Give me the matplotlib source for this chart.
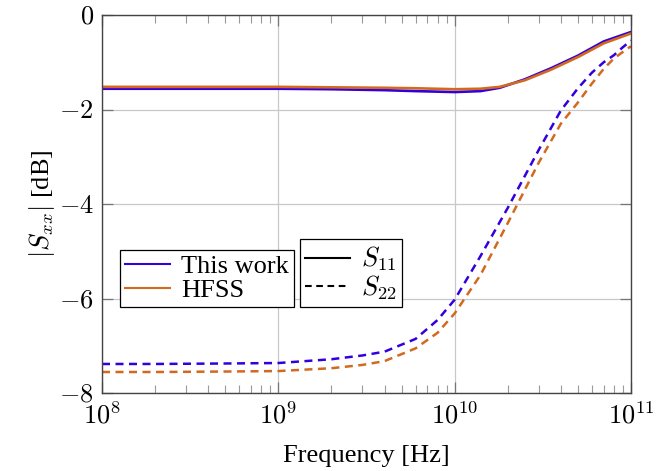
import matplotlib
matplotlib.use("Agg")
import matplotlib.pyplot as plt
from matplotlib.lines import Line2D
from matplotlib.ticker import LogLocator, FixedLocator

plt.rcParams['font.family'] = ['Liberation Serif', 'DejaVu Serif']
plt.rcParams['mathtext.fontset'] = 'cm'

# frequency points [Hz]
freq_s11 = [1e8, 2e8, 5e8, 1e9, 2e9, 4e9, 6e9, 1e10, 1.4e10, 1.8e10, 2.5e10,
            3.5e10, 5e10, 7e10, 1e11]
s11_this = [-1.56, -1.56, -1.56, -1.56, -1.57, -1.59, -1.61, -1.63, -1.61,
            -1.54, -1.36, -1.13, -0.86, -0.56, -0.36]
s11_hfss = [-1.52, -1.52, -1.52, -1.52, -1.53, -1.54, -1.55, -1.57, -1.56,
            -1.52, -1.38, -1.16, -0.89, -0.60, -0.39]

freq_s22 = [1e8, 2e8, 5e8, 1e9, 2e9, 3e9, 4e9, 6e9, 8e9, 1e10, 1.4e10, 2e10,
            3e10, 4e10, 5e10, 6e10, 7e10, 8e10, 9e10, 1e11]
s22_this = [-7.38, -7.38, -7.37, -7.36, -7.28, -7.20, -7.12, -6.85, -6.45,
            -6.02, -5.10, -4.08, -2.85, -2.02, -1.55, -1.22, -1.00, -0.85,
            -0.68, -0.54]
s22_hfss = [-7.55, -7.55, -7.54, -7.53, -7.47, -7.40, -7.32, -7.05, -6.72,
            -6.31, -5.50, -4.40, -3.12, -2.30, -1.85, -1.45, -1.14, -0.92,
            -0.78, -0.66]

c_this = '#3300dd'
c_hfss = '#d2691e'
dash = (0, (3.2, 2.2))
fs = 19

fig = plt.figure(figsize=(6.65, 4.71), dpi=100)
ax = fig.add_axes([0.1534, 0.165, 0.7955, 0.8032])

ax.plot(freq_s11, s11_this, color=c_this, lw=1.9)
ax.plot(freq_s11, s11_hfss, color=c_hfss, lw=1.9)
ax.plot(freq_s22, s22_this, color=c_this, lw=1.8, ls=dash)
ax.plot(freq_s22, s22_hfss, color=c_hfss, lw=1.8, ls=dash)

ax.set_xscale('log')
ax.set_xlim(1e8, 1e11)
ax.set_ylim(-8, 0)
ax.xaxis.set_major_locator(FixedLocator([1e8, 1e9, 1e10, 1e11]))
ax.xaxis.set_minor_locator(LogLocator(base=10, subs=range(2, 10), numticks=20))
ax.set_xticklabels([r'$10^{8}$', r'$10^{9}$', r'$10^{10}$', r'$10^{11}$'])
ax.set_yticks([-8, -6, -4, -2, 0])
ax.set_yticklabels([r'$-8$', r'$-6$', r'$-4$', r'$-2$', r'$0$'])

ax.grid(True, which='major', color='#c8c8c8', lw=0.9)
ax.tick_params(which='both', direction='in', top=True, right=True,
               labelsize=fs)
ax.tick_params(which='major', length=8, width=0.9, color='#777777')
ax.tick_params(which='minor', length=5.5, width=0.8, color='#999999')
ax.tick_params(axis='x', which='major', pad=6)
ax.tick_params(axis='y', which='major', pad=6)
for s in ax.spines.values():
    s.set_color('#444444')
    s.set_linewidth(1.0)

ax.set_xlabel('Frequency [Hz]', fontsize=fs, labelpad=12)
ax.set_ylabel(r'$|S_{xx}|$ [dB]', fontsize=fs, labelpad=1)

leg_kw = dict(fontsize=fs, fancybox=False, edgecolor='black', framealpha=1,
              handlelength=1.7, borderaxespad=0, borderpad=0.2,
              labelspacing=0.0, handletextpad=0.42)

h1 = [Line2D([], [], color=c_this, lw=1.5), Line2D([], [], color=c_hfss, lw=1.5)]
leg1 = ax.legend(h1, ['This work', 'HFSS'], loc='lower right',
                 bbox_to_anchor=(0.363, 0.228), **leg_kw)
leg1.get_frame().set_linewidth(0.9)
ax.add_artist(leg1)

h2 = [Line2D([], [], color='black', lw=1.5),
      Line2D([], [], color='black', lw=1.5, ls=dash)]
leg2 = ax.legend(h2, [r'$S_{11}$', r'$S_{22}$'], loc='lower left',
                 bbox_to_anchor=(0.374, 0.228), **leg_kw)
leg2.get_frame().set_linewidth(0.9)

fig.savefig('out.png', dpi=100)
